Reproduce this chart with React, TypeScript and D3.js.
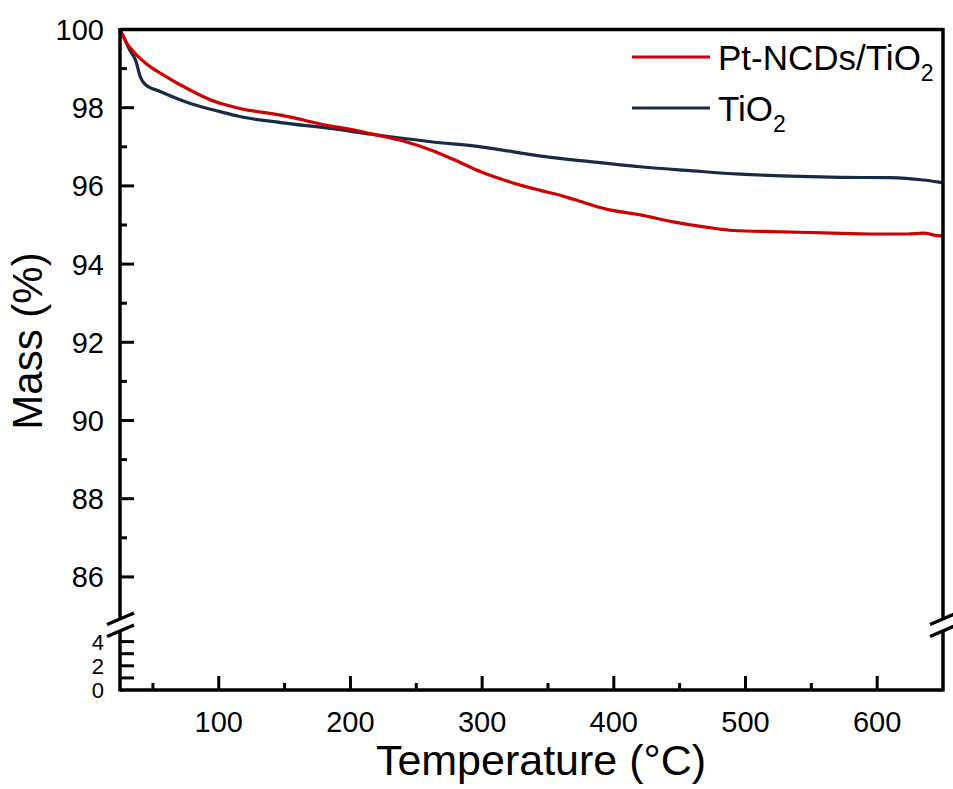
import * as d3 from "d3";

// Pt-NCDs/TiO2 curve (temperature in °C, mass in %)
const ptTemp = [25, 27, 30, 33, 40, 50, 56, 71, 86, 96, 116, 147, 165, 185, 200, 216, 240, 261, 280, 299, 324, 345, 357, 370, 395, 420, 445, 471, 491, 520, 560, 598, 623, 635, 648, 650];
const ptMass = [99.95, 99.85, 99.65, 99.52, 99.27, 99.0, 98.88, 98.58, 98.32, 98.17, 97.98, 97.81, 97.68, 97.53, 97.45, 97.33, 97.15, 96.92, 96.65, 96.36, 96.07, 95.88, 95.78, 95.65, 95.4, 95.26, 95.08, 94.94, 94.86, 94.83, 94.8, 94.77, 94.77, 94.79, 94.72, 94.72];

// TiO2 curve
const tiTemp = [25, 28, 32, 37, 40.5, 44, 56, 71, 86, 101, 115, 147, 185, 216, 261, 299, 345, 382, 420, 458, 496, 534, 572, 610, 635, 648, 650];
const tiMass = [100.0, 99.8, 99.5, 99.2, 98.78, 98.6, 98.41, 98.2, 98.03, 97.9, 97.78, 97.62, 97.47, 97.32, 97.13, 97.0, 96.76, 96.62, 96.49, 96.39, 96.3, 96.25, 96.22, 96.21, 96.15, 96.09, 96.08];

const xMajor = [100, 200, 300, 400, 500, 600];
const xMinor = [50, 150, 250, 350, 450, 550];
const yMajor = [86, 88, 90, 92, 94, 96, 98, 100];
const yMinor = [87, 89, 91, 93, 95, 97, 99];
const lowTicks = [1, 2, 3, 4];
const lowLabels = [0, 2, 4];

const seriesNames = ["Pt-NCDs/TiO", "TiO"];
const seriesColors = ["#cc0000", "#172b47"];

const W = 953;
const H = 789;
const left = 120;
const right = 943;
const top = 29.5;
const bottom = 690;
const font = "'Liberation Sans', Arial, sans-serif";

export default function App() {
  const x = d3.scaleLinear().domain([25, 650]).range([left, right]);
  const yUp = d3.scaleLinear().domain([85, 100]).range([616, top]);
  const yLow = d3.scaleLinear().domain([0, 5]).range([bottom, 629.5]);

  const line = d3
    .line<[number, number]>()
    .x((d) => x(d[0]))
    .y((d) => yUp(d[1]))
    .curve(d3.curveMonotoneX);

  const ptData = ptTemp.map((t, i) => [t, ptMass[i]] as [number, number]);
  const tiData = tiTemp.map((t, i) => [t, tiMass[i]] as [number, number]);

  const ax = { stroke: "#000", strokeWidth: 3.5, fill: "none" };
  const tk = { stroke: "#000", strokeWidth: 3 };

  // axis break slashes
  const slash = (cx: number, cy: number) => (
    <line x1={cx - 13} y1={cy + 5.5} x2={cx + 14} y2={cy - 6} {...ax} />
  );

  return (
    <svg width={W} height={H} style={{ position: "absolute", left: 0, top: 0, background: "#fff" }}>
      {/* data */}
      <path d={line(tiData) || ""} fill="none" stroke={seriesColors[1]} strokeWidth={3.2} />
      <path d={line(ptData) || ""} fill="none" stroke={seriesColors[0]} strokeWidth={3.2} />

      {/* frame */}
      <line x1={left} y1={top} x2={right} y2={top} {...ax} />
      <line x1={left} y1={bottom} x2={right} y2={bottom} {...ax} />
      <line x1={left} y1={top - 1.5} x2={left} y2={619} {...ax} />
      <line x1={left} y1={631} x2={left} y2={bottom + 1.5} {...ax} />
      <line x1={right} y1={top - 1.5} x2={right} y2={619} {...ax} />
      <line x1={right} y1={631} x2={right} y2={bottom + 1.5} {...ax} />
      {slash(left, 619)}
      {slash(left, 631)}
      {slash(right, 619)}
      {slash(right, 631)}

      {/* y ticks upper */}
      {yMajor.map((v) => (
        <g key={"ym" + v}>
          {v < 100 && <line x1={left} x2={left + 14} y1={yUp(v)} y2={yUp(v)} {...tk} />}
          <text x={104} y={yUp(v)} dy="0.36em" textAnchor="end" fontSize={29} fontFamily={font}>
            {v}
          </text>
        </g>
      ))}
      {yMinor.map((v) => (
        <line key={"yn" + v} x1={left} x2={left + 7} y1={yUp(v)} y2={yUp(v)} {...tk} />
      ))}

      {/* y ticks lower */}
      {lowTicks.map((v) => (
        <line key={"yl" + v} x1={left} x2={left + 14} y1={yLow(v)} y2={yLow(v)} {...tk} />
      ))}
      {lowLabels.map((v) => (
        <text key={"yll" + v} x={104} y={yLow(v)} dy="0.36em" textAnchor="end" fontSize={22} fontFamily={font}>
          {v}
        </text>
      ))}

      {/* x ticks */}
      {xMajor.map((v) => (
        <g key={"xm" + v}>
          <line x1={x(v)} x2={x(v)} y1={bottom} y2={bottom - 14} {...tk} />
          <text x={x(v)} y={732} textAnchor="middle" fontSize={29} fontFamily={font}>
            {v}
          </text>
        </g>
      ))}
      {xMinor.map((v) => (
        <line key={"xn" + v} x1={x(v)} x2={x(v)} y1={bottom} y2={bottom - 7} {...tk} />
      ))}

      {/* axis titles */}
      <text x={541} y={775} textAnchor="middle" fontSize={43} fontFamily={font}>
        Temperature (°C)
      </text>
      <text transform="translate(42,341) rotate(-90)" textAnchor="middle" fontSize={42} fontFamily={font}>
        Mass (%)
      </text>

      {/* legend */}
      {seriesNames.map((name, i) => {
        const ly = 57 + i * 51;
        return (
          <g key={name}>
            <line x1={632} x2={710} y1={ly} y2={ly} stroke={seriesColors[i]} strokeWidth={3} />
            <text x={718} y={ly + 13} fontSize={35} fontFamily={font}>
              {name}
              <tspan fontSize={23} dy={11}>
                2
              </tspan>
            </text>
          </g>
        );
      })}
    </svg>
  );
}
